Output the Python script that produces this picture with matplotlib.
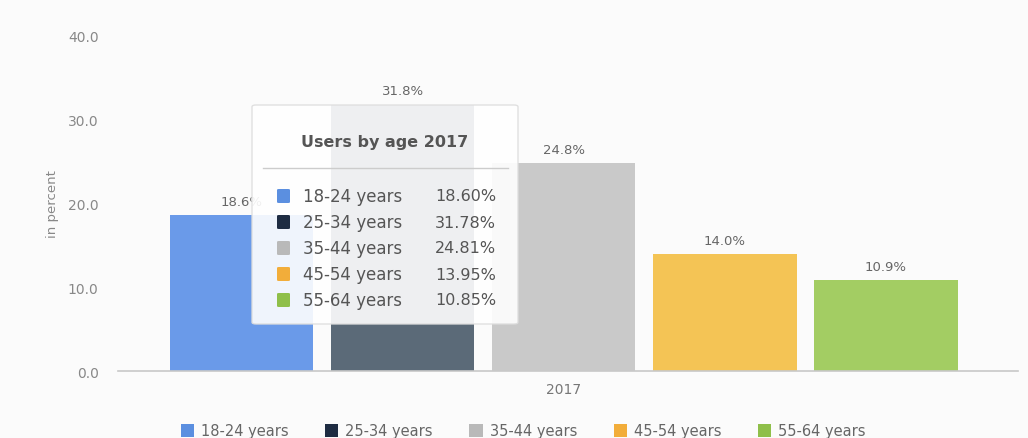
import matplotlib
matplotlib.use('Agg')
import matplotlib.pyplot as plt
from matplotlib.patches import Rectangle, FancyBboxPatch
from matplotlib.lines import Line2D
from decimal import Decimal, ROUND_HALF_UP

# Data
year = '2017'
age_groups = ['18-24 years', '25-34 years', '35-44 years', '45-54 years', '55-64 years']
shares = [18.60, 31.78, 24.81, 13.95, 10.85]
colors = ['#6a9ae9', '#5b6a78', '#c9c9c9', '#f4c455', '#a3cd63']
legend_colors = ['#5b8fe0', '#1e2c42', '#b9b9b9', '#f2ad3a', '#8fbf4a']
y_ticks = [0, 10, 20, 30, 40]


def one_decimal(v):
    # round half up, like the source chart (13.95 -> 14.0)
    return str(Decimal(str(v)).quantize(Decimal('0.1'), rounding=ROUND_HALF_UP))


plt.rcParams['font.family'] = ['DejaVu Sans']

fig = plt.figure(figsize=(10.28, 4.39), dpi=100)
fig.patch.set_facecolor('#fbfbfb')
ax = fig.add_axes([118 / 1028, 1 - 372 / 439, (1018 - 118) / 1028, (372 - 37) / 439])
ax.set_facecolor('#fbfbfb')

# Bars, one per age group, in a single 2017 group
spacing = 1.0
width = 0.89
group_center = 2
xs = [group_center + (i - 2) * spacing for i in range(len(shares))]
ax.bar(xs, shares, width=width, color=colors, zorder=2)
for x, v in zip(xs, shares):
    ax.text(x, v + 0.9, one_decimal(v) + '%', ha='center', va='bottom', fontsize=9.5,
            color='#666666', zorder=3)

ax.set_xlim(-0.767, 4.82)
ax.set_ylim(0, 40)
ax.set_yticks(y_ticks)
ax.set_yticklabels([f'{t:.1f}' for t in y_ticks])
ax.set_xticks([group_center])
ax.set_xticklabels([year])
ax.tick_params(axis='y', length=0, pad=14, labelsize=10, labelcolor='#888888')
ax.tick_params(axis='x', length=0, pad=8, labelsize=10, labelcolor='#777777')
for side in ['top', 'right', 'left']:
    ax.spines[side].set_visible(False)
ax.spines['bottom'].set_color('#c8c8c8')
ax.spines['bottom'].set_linewidth(1.2)
ax.set_ylabel('in percent', fontsize=9.5, color='#888888', labelpad=6)

# Tooltip box
tip = FancyBboxPatch((252 / 1028, 1 - 325 / 439), (518 - 252) / 1028, (325 - 106) / 439,
                     boxstyle='round,pad=0,rounding_size=0.004', transform=fig.transFigure,
                     facecolor='white', alpha=0.9, edgecolor='#dddddd', linewidth=1, zorder=10)
fig.patches.append(tip)
fig.text(385 / 1028, 1 - 143 / 439, 'Users by age ' + year, ha='center', va='center',
         fontsize=11.5, fontweight='bold', color='#555555', zorder=11)
fig.add_artist(Line2D([263 / 1028, 508 / 1028], [1 - 169 / 439] * 2, color='#cccccc',
                      linewidth=1, transform=fig.transFigure, zorder=11))
row_y = [197, 223, 249, 275, 301]
for yy, name, v, c in zip(row_y, age_groups, shares, legend_colors):
    fy = 1 - yy / 439
    fig.patches.append(FancyBboxPatch((277 / 1028, fy - 7 / 439), 13 / 1028, 14 / 439,
                                      boxstyle='round,pad=0,rounding_size=0.002',
                                      transform=fig.transFigure, facecolor=c,
                                      edgecolor='none', zorder=11))
    fig.text(303 / 1028, fy, name, ha='left', va='center', fontsize=12, color='#555555', zorder=11)
    fig.text(496 / 1028, fy, f'{v:.2f}%', ha='right', va='center', fontsize=11.5, color='#555555', zorder=11)

# Bottom legend
handles = [Rectangle((0, 0), 1, 1, facecolor=c, edgecolor='none') for c in legend_colors]
fig.legend(handles, age_groups, loc='center', bbox_to_anchor=(0.509, 1 - 432 / 439), ncol=5,
           frameon=False, fontsize=10.5, labelcolor='#666666', handlelength=0.9, handleheight=0.9,
           handletextpad=0.5, columnspacing=2.5)

fig.savefig('out.png', dpi=100, facecolor=fig.get_facecolor())
